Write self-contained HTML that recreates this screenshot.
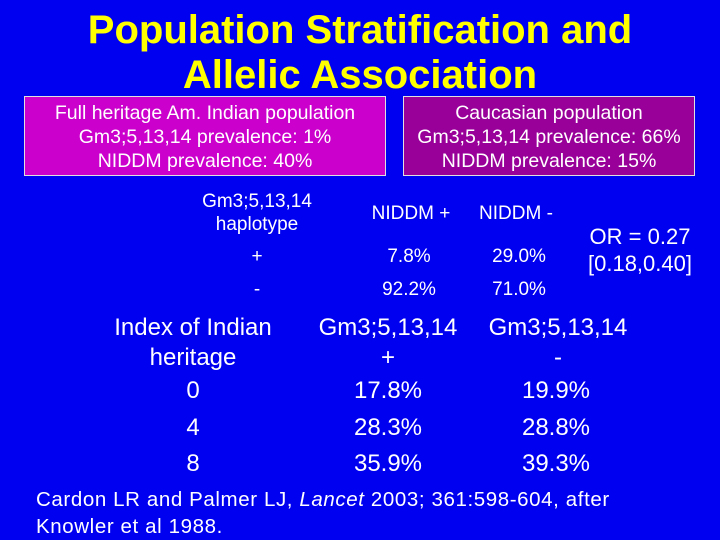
<!DOCTYPE html>
<html><head><style>
body{margin:0;width:720px;height:540px;background:#0000f0;overflow:hidden;position:relative;font-family:"Liberation Sans",Arial,sans-serif;color:#fff}
.a{position:absolute;white-space:nowrap}
.t{color:#ffff00;font-weight:bold;font-size:40px;text-align:center;width:720px;left:0;line-height:44px}
.box{position:absolute;border:1px solid #e0e0e0;text-align:center;font-size:19.5px;line-height:24px;padding-top:4px;box-sizing:border-box}
.s{font-size:19px;text-align:center}
.b{font-size:24px;text-align:center}
</style></head><body>
<div class="a t" style="top:8px">Population Stratification and</div>
<div class="a t" style="top:53px">Allelic Association</div>
<div class="box" style="left:24px;top:96px;width:362px;height:80px;background:#cc00cc">Full heritage Am. Indian population<br>Gm3;5,13,14 prevalence: 1%<br>NIDDM prevalence: 40%</div>
<div class="box" style="left:403px;top:96px;width:292px;height:80px;background:#990099">Caucasian population<br>Gm3;5,13,14 prevalence: 66%<br>NIDDM prevalence: 15%</div>
<div class="a s" style="left:187px;top:190px;width:140px;line-height:23px">Gm3;5,13,14<br>haplotype</div>
<div class="a s" style="left:361px;top:203px;width:100px">NIDDM +</div>
<div class="a s" style="left:466px;top:203px;width:100px">NIDDM -</div>
<div class="a s" style="left:207px;top:246px;width:100px">+</div>
<div class="a s" style="left:359px;top:246px;width:100px">7.8%</div>
<div class="a s" style="left:469px;top:246px;width:100px">29.0%</div>
<div class="a s" style="left:207px;top:279px;width:100px">-</div>
<div class="a s" style="left:359px;top:279px;width:100px">92.2%</div>
<div class="a s" style="left:469px;top:279px;width:100px">71.0%</div>
<div class="a" style="left:581px;top:223px;width:118px;text-align:center;font-size:22px;line-height:27px">OR = 0.27<br>[0.18,0.40]</div>
<div class="a b" style="left:103px;top:313px;width:180px;line-height:30px">Index of Indian<br>heritage</div>
<div class="a b" style="left:308px;top:313px;width:160px;line-height:30px">Gm3;5,13,14<br>+</div>
<div class="a b" style="left:478px;top:313px;width:160px;line-height:30px">Gm3;5,13,14<br>-</div>
<div class="a b" style="left:143px;top:377px;width:100px">0</div>
<div class="a b" style="left:338px;top:377px;width:100px">17.8%</div>
<div class="a b" style="left:506px;top:377px;width:100px">19.9%</div>
<div class="a b" style="left:143px;top:414px;width:100px">4</div>
<div class="a b" style="left:338px;top:414px;width:100px">28.3%</div>
<div class="a b" style="left:506px;top:414px;width:100px">28.8%</div>
<div class="a b" style="left:143px;top:450px;width:100px">8</div>
<div class="a b" style="left:338px;top:450px;width:100px">35.9%</div>
<div class="a b" style="left:506px;top:450px;width:100px">39.3%</div>
<div class="a" style="left:36px;top:486px;font-size:20.5px;line-height:27px;letter-spacing:0.6px">Cardon LR and Palmer LJ, <i>Lancet</i> 2003; 361:598-604, after<br>Knowler et al 1988.</div>
</body></html>
